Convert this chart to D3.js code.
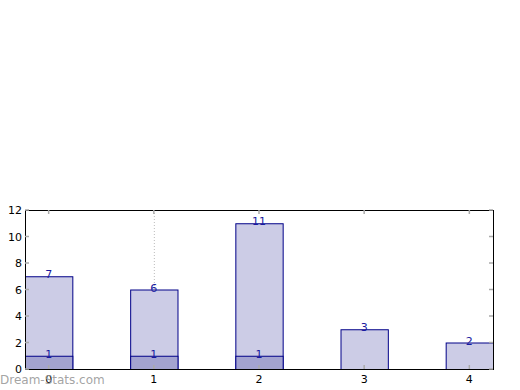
<!DOCTYPE html>
<html>
<head>
<meta charset="utf-8">
<script src="https://cdn.jsdelivr.net/npm/d3@7"></script>
<style>
  body { margin: 0; background: #fff; }
  text { font-family: "DejaVu Sans", sans-serif; }
</style>
</head>
<body>
<div id="chart"></div>
<script>
const categories = [0, 1, 2, 3, 4];
const totals = [7, 6, 11, 3, 2];
const subset = [1, 1, 1, 0, 0];
const yTicks = [0, 2, 4, 6, 8, 10, 12];

const width = 520, height = 390;
const margin = { top: 210, right: 27, bottom: 21, left: 25 };

const svg = d3.select("#chart").append("svg")
    .attr("width", width)
    .attr("height", height);

const x = d3.scaleLinear().domain([-0.225, 4.225]).range([margin.left, width - margin.right]);
const y = d3.scaleLinear().domain([0, 12]).range([height - margin.bottom, margin.top]);
const barW = x(0.45) - x(0);

const plot = svg.append("g");

// dotted grid line at x = 1
plot.append("line")
    .attr("x1", x(1) + 0.5).attr("x2", x(1) + 0.5)
    .attr("y1", y(12)).attr("y2", y(0))
    .attr("stroke", "#bbb")
    .attr("stroke-dasharray", "1,2");

// total bars
plot.selectAll("rect.total").data(categories)
    .enter().append("rect").attr("class", "total")
    .attr("x", d => x(d - 0.225) + 0.5)
    .attr("y", (d, i) => y(totals[i]) + 0.5)
    .attr("width", barW)
    .attr("height", (d, i) => y(0) - y(totals[i]))
    .attr("fill", "#ccccE6")
    .attr("stroke", "#000088")
    .attr("stroke-width", 1);

// subset bars
plot.selectAll("rect.sub").data(categories.filter((d, i) => subset[i] > 0))
    .enter().append("rect").attr("class", "sub")
    .attr("x", d => x(d - 0.225) + 0.5)
    .attr("y", d => y(subset[d]) + 0.5)
    .attr("width", barW)
    .attr("height", d => y(0) - y(subset[d]))
    .attr("fill", "#a3a3d0")
    .attr("stroke", "#000088")
    .attr("stroke-width", 1);

// value labels
const labelStyle = sel => sel
    .attr("text-anchor", "middle")
    .attr("font-size", 11)
    .attr("fill", "#1a1aa0");

plot.selectAll("text.total").data(categories)
    .enter().append("text").attr("class", "total")
    .attr("x", d => x(d))
    .attr("y", (d, i) => y(totals[i]) + 2)
    .text((d, i) => totals[i])
    .call(labelStyle);

plot.selectAll("text.sub").data(categories.filter((d, i) => subset[i] > 0))
    .enter().append("text").attr("class", "sub")
    .attr("x", d => x(d))
    .attr("y", d => y(subset[d]) + 2)
    .text(d => subset[d])
    .call(labelStyle);

// frame
svg.append("rect")
    .attr("x", margin.left + 0.5)
    .attr("y", margin.top + 0.5)
    .attr("width", width - margin.right - margin.left)
    .attr("height", y(0) - y(12))
    .attr("fill", "none")
    .attr("stroke", "#000");

// ticks (inside, gray)
const tickG = svg.append("g").attr("stroke", "#aaa").attr("stroke-width", 1.5);
categories.forEach(c => {
    tickG.append("line").attr("x1", x(c)).attr("x2", x(c)).attr("y1", y(0)).attr("y2", y(0) - 4);
    tickG.append("line").attr("x1", x(c)).attr("x2", x(c)).attr("y1", y(12)).attr("y2", y(12) + 4);
});
yTicks.forEach(t => {
    tickG.append("line").attr("x1", x(-0.225)).attr("x2", x(-0.225) + 4).attr("y1", y(t)).attr("y2", y(t));
    tickG.append("line").attr("x1", x(4.225)).attr("x2", x(4.225) - 4).attr("y1", y(t)).attr("y2", y(t));
});

// tick labels
svg.append("g").selectAll("text").data(categories)
    .enter().append("text")
    .attr("x", d => x(d))
    .attr("y", y(0) + 14)
    .attr("text-anchor", "middle")
    .attr("font-size", 11)
    .attr("fill", "#000")
    .text(d => d);

svg.append("g").selectAll("text").data(yTicks)
    .enter().append("text")
    .attr("x", margin.left - 3)
    .attr("y", d => y(d) + 4)
    .attr("text-anchor", "end")
    .attr("font-size", 11)
    .attr("fill", "#000")
    .text(d => d);

// watermark
svg.append("text")
    .attr("x", 0)
    .attr("y", 384)
    .attr("font-size", 12)
    .attr("fill", "#999")
    .attr("fill-opacity", 0.9)
    .text("Dream-Stats.com");
</script>
</body>
</html>
